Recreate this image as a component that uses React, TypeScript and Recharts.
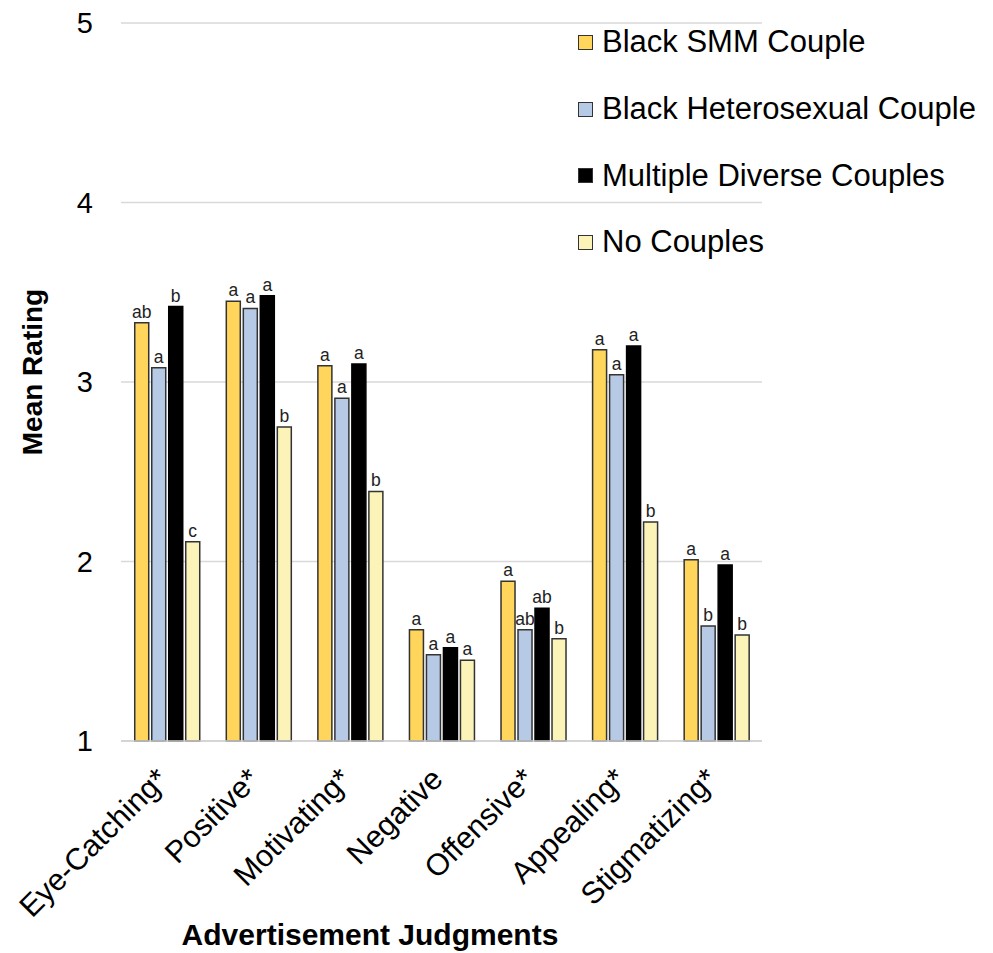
import React from 'react';
import { BarChart, Bar, XAxis, YAxis, CartesianGrid, Legend, LabelList, Label } from 'recharts';

const FONT = '"Liberation Sans", Arial, sans-serif';

const categories = ['Eye-Catching*', 'Positive*', 'Motivating*', 'Negative', 'Offensive*', 'Appealing*', 'Stigmatizing*'];

const seriesNames = ['Black SMM Couple', 'Black Heterosexual Couple', 'Multiple Diverse Couples', 'No Couples'];
const seriesColors = ['#FFD55C', '#B6CAE6', '#000000', '#FCF3B8'];

const smmCouple = [3.33, 3.45, 3.09, 1.62, 1.89, 3.18, 2.01];
const heteroCouple = [3.08, 3.41, 2.91, 1.48, 1.62, 3.04, 1.64];
const diverseCouples = [3.42, 3.48, 3.1, 1.52, 1.74, 3.2, 1.98];
const noCouples = [2.11, 2.75, 2.39, 1.45, 1.57, 2.22, 1.59];

// significance letters above each bar
const smmSig = ['ab', 'a', 'a', 'a', 'a', 'a', 'a'];
const heteroSig = ['a', 'a', 'a', 'a', 'ab', 'a', 'b'];
const diverseSig = ['b', 'a', 'a', 'a', 'ab', 'a', 'a'];
const noSig = ['c', 'b', 'b', 'a', 'b', 'b', 'b'];

const yTicks = [1, 2, 3, 4, 5];

const data = categories.map((name, i) => ({
  name,
  smm: smmCouple[i],
  hetero: heteroCouple[i],
  diverse: diverseCouples[i],
  none: noCouples[i],
  smmSig: smmSig[i],
  heteroSig: heteroSig[i],
  diverseSig: diverseSig[i],
  noSig: noSig[i],
}));

const AngledTick = ({ x, y, payload }: any) => (
  <text
    x={x + 3}
    y={y + 38}
    transform={`rotate(-45 ${x + 3} ${y + 38})`}
    textAnchor="end"
    fontSize={30.5}
    fontFamily={FONT}
    fill="#000"
  >
    {payload.value}
  </text>
);

// keep legend in series order (recharts sorts by name otherwise)
const renderLegend = () => (
  <div style={{ fontFamily: FONT }}>
    {seriesNames.map((name, i) => (
      <div key={name} style={{ display: 'flex', alignItems: 'center', height: 66.7 }}>
        <span
          style={{
            display: 'inline-block',
            width: 13,
            height: 13,
            background: seriesColors[i],
            border: '1.5px solid #333',
            marginRight: 9,
          }}
        />
        <span style={{ fontSize: 31, color: '#000', whiteSpace: 'nowrap' }}>{name}</span>
      </div>
    ))}
  </div>
);

const sigLabel = { position: 'top' as const, offset: 5, fontSize: 17.5, fill: '#222', fontFamily: FONT };

export default function App() {
  return (
    <div style={{ position: 'absolute', left: 0, top: 0, width: 993, height: 953, background: '#fff' }}>
      <BarChart
        width={993}
        height={953}
        data={data}
        margin={{ top: 23, right: 231, bottom: 0, left: 0 }}
        barCategoryGap="15%"
        barGap={3}
      >
        <CartesianGrid vertical={false} stroke="#d9d9d9" strokeWidth={1.5} />
        <XAxis
          dataKey="name"
          height={212}
          interval={0}
          tickLine={false}
          tickSize={0}
          axisLine={{ stroke: '#d0d0d0', strokeWidth: 1.5 }}
          tick={<AngledTick />}
        >
          <Label
            content={({ viewBox }: any) => (
              <text x={370} y={viewBox.y + 204} textAnchor="middle" fontSize={30} fontWeight="bold" fontFamily={FONT} fill="#000">
                Advertisement Judgments
              </text>
            )}
          />
        </XAxis>
        <YAxis
          width={121}
          domain={[1, 5]}
          ticks={yTicks}
          axisLine={false}
          tickLine={false}
          tickSize={0}
          tickMargin={28}
          tick={{ fontSize: 29, fill: '#000', fontFamily: FONT }}
        >
          <Label
            content={({ viewBox }: any) => (
              <text
                x={42}
                y={viewBox.y + viewBox.height / 2 - 10}
                transform={`rotate(-90 42 ${viewBox.y + viewBox.height / 2 - 10})`}
                textAnchor="middle"
                fontSize={28}
                fontWeight="bold"
                fontFamily={FONT}
                fill="#000"
              >
                Mean Rating
              </text>
            )}
          />
        </YAxis>
        <Legend
          layout="vertical"
          align="center"
          verticalAlign="middle"
          content={renderLegend}
          wrapperStyle={{ top: 9, left: 578, width: 415, height: 270 }}
        />
        <Bar name={seriesNames[0]} dataKey="smm" fill={seriesColors[0]} stroke="#333" strokeWidth={1.5} isAnimationActive={false}>
          <LabelList dataKey="smmSig" {...sigLabel} />
        </Bar>
        <Bar name={seriesNames[1]} dataKey="hetero" fill={seriesColors[1]} stroke="#333" strokeWidth={1.5} isAnimationActive={false}>
          <LabelList dataKey="heteroSig" {...sigLabel} />
        </Bar>
        <Bar name={seriesNames[2]} dataKey="diverse" fill={seriesColors[2]} stroke="#000" strokeWidth={1.5} isAnimationActive={false}>
          <LabelList dataKey="diverseSig" {...sigLabel} />
        </Bar>
        <Bar name={seriesNames[3]} dataKey="none" fill={seriesColors[3]} stroke="#333" strokeWidth={1.5} isAnimationActive={false}>
          <LabelList dataKey="noSig" {...sigLabel} />
        </Bar>
      </BarChart>
    </div>
  );
}
